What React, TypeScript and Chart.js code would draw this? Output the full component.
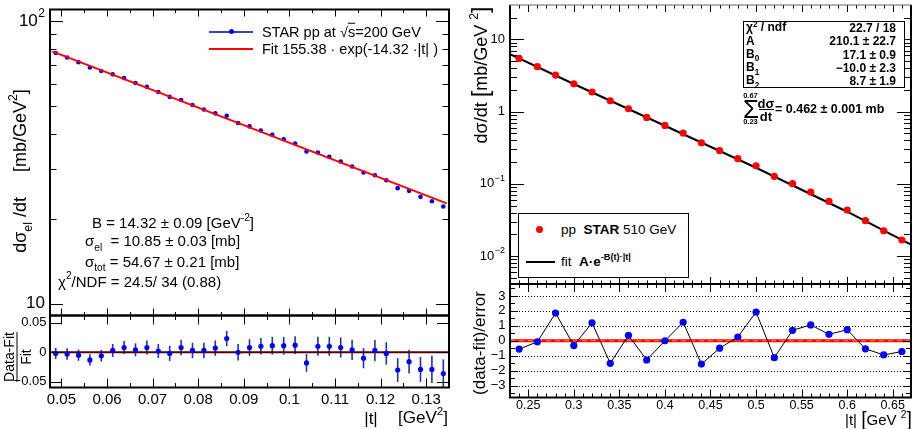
import React, { useEffect, useRef } from "react";
import { Chart, registerables } from "chart.js";
Chart.register(...registerables);

const FONT = '"Liberation Sans", Arial, Helvetica, sans-serif';

// ---------------- STAR pp at sqrt(s)=200 GeV ----------------
const t200 = [
  0.04875, 0.05125, 0.05375, 0.05625, 0.05875, 0.06125, 0.06375, 0.06625, 0.06875, 0.07125,
  0.07375, 0.07625, 0.07875, 0.08125, 0.08375, 0.08625, 0.08875, 0.09125, 0.09375, 0.09625,
  0.09875, 0.10125, 0.10375, 0.10625, 0.10875, 0.11125, 0.11375, 0.11625, 0.11875, 0.12125,
  0.12375, 0.12625, 0.12875, 0.13125, 0.13375,
];
const dsdt200 = [
  77.16, 74.37, 71.61, 68.53, 66.59, 64.83, 62.86, 60.41, 58.51, 56.12,
  53.93, 52.56, 50.46, 48.69, 47.16, 46.22, 43.59, 42.4, 40.99, 39.58,
  38.2, 36.89, 34.54, 34.27, 33.07, 31.83, 30.59, 29.11, 28.46, 27.32,
  25.62, 25.07, 23.87, 23.03, 22.06,
];
const ratio200 = [
  -0.002, -0.003, -0.005, -0.013, -0.006, 0.003, 0.008, 0.004, 0.008, 0.002,
  -0.002, 0.008, 0.003, 0.003, 0.007, 0.023, 0.0, 0.008, 0.01, 0.011,
  0.011, 0.012, -0.018, 0.01, 0.01, 0.008, 0.004, -0.01, 0.003, -0.002,
  -0.03, -0.016, -0.029, -0.029, -0.036,
];
const ratioErr200 = [
  0.0095, 0.0098, 0.0095, 0.0095, 0.0098, 0.011, 0.011, 0.011, 0.012, 0.012,
  0.013, 0.013, 0.013, 0.013, 0.013, 0.013, 0.014, 0.014, 0.014, 0.015,
  0.015, 0.015, 0.015, 0.016, 0.016, 0.017, 0.017, 0.017, 0.018, 0.019,
  0.02, 0.02, 0.021, 0.023, 0.024,
];
const fit200T = [0.048, 0.1345];
const fit200Y = [78.14, 22.64];
const zero200T = [0.0475, 0.135];
const zero200Y = [0, 0];

// ---------------- pp STAR 510 GeV ----------------
const t510 = [
  0.24, 0.26, 0.28, 0.3, 0.32, 0.34, 0.36, 0.38, 0.4, 0.42, 0.44,
  0.46, 0.48, 0.5, 0.52, 0.54, 0.56, 0.58, 0.6, 0.62, 0.64, 0.66,
];
const dsdt510 = [
  5.46, 4.19, 3.21, 2.43, 1.87, 1.415, 1.097, 0.832, 0.644, 0.505, 0.371,
  0.288, 0.223, 0.178, 0.127, 0.1004, 0.0769, 0.0571, 0.0434, 0.0309, 0.0224, 0.01667,
];
const pull510 = [
  -0.56, -0.07, 1.85, -0.32, 1.2, -1.51, 0.36, -1.29, 0.0, 1.24, -1.56,
  -0.5, 0.25, 1.92, -1.13, 0.7, 1.06, 0.43, 0.74, -0.54, -0.95, -0.72,
];
const fit510T = [0.23, 0.3, 0.4, 0.5, 0.6, 0.67];
const fit510Y = [6.28, 2.417, 0.638, 0.167, 0.0411, 0.01445];
const zero510T = [0.23, 0.67];
const zero510Y = [0, 0];

// ---------------- tick labels ----------------
const x200Ticks = [0.05, 0.06, 0.07, 0.08, 0.09, 0.1, 0.11, 0.12, 0.13];
const x200Labels = ["0.05", "0.06", "0.07", "0.08", "0.09", "0.1", "0.11", "0.12", "0.13"];
const y200Ticks = [10, 100];
const y200Base = ["10", "10"];
const y200Exp = ["", "2"];
const r200Ticks = [-0.05, 0, 0.05];
const r200Labels = ["\u22120.05", "0", "0.05"];
const x510Ticks = [0.25, 0.3, 0.35, 0.4, 0.45, 0.5, 0.55, 0.6, 0.65];
const x510Labels = ["0.25", "0.3", "0.35", "0.4", "0.45", "0.5", "0.55", "0.6", "0.65"];
const y510Ticks = [0.01, 0.1, 1, 10];
const y510Base = ["10", "10", "1", "10"];
const y510Exp = ["\u22122", "\u22121", "", ""];
const p510Ticks = [-3, -2, -1, 0, 1, 2, 3];
const p510Labels = ["\u22123", "\u22122", "\u22121", "0", "1", "2", "3"];

// ---------------- helpers ----------------
function steps(a: number, b: number, st: number): number[] {
  const out: number[] = [];
  const n = Math.round((b - a) / st);
  for (let i = 0; i <= n; i++) out.push(+(a + i * st).toFixed(6));
  return out;
}
function logMinors(min: number, max: number): number[] {
  const out: number[] = [];
  for (let k = Math.floor(Math.log10(min)); k <= Math.ceil(Math.log10(max)); k++) {
    for (let m = 2; m <= 9; m++) {
      const v = m * Math.pow(10, k);
      if (v > min && v < max) out.push(v);
    }
  }
  return out;
}
const pts = (xs: number[], ys: number[]) => xs.map((x, i) => ({ x, y: ys[i] }));

interface AxisTicks { major: number[]; minor: number[]; majLen: number; minLen: number; }
interface LabelSpec { values: number[]; texts: string[]; exps?: string[]; size: number; offset: number; }
interface FrameCfg {
  x: AxisTicks; y: AxisTicks;
  xLabels?: LabelSpec; yLabels?: LabelSpec;
  topColor?: string; topWidth?: number;
  grid?: number[];
  err?: { x: number[]; y: number[]; e: number[]; color: string; width: number };
}

function makeFrame(cfg: FrameCfg) {
  return {
    id: "rootFrame",
    beforeDatasetsDraw(chart: any) {
      const { ctx, chartArea: ca, scales } = chart;
      const xs = scales.x, ys = scales.y;
      ctx.save();
      if (cfg.grid) {
        ctx.strokeStyle = "#000";
        ctx.lineWidth = 1;
        ctx.setLineDash([1, 2]);
        cfg.grid.forEach((v) => {
          const py = Math.round(ys.getPixelForValue(v)) + 0.5;
          ctx.beginPath();
          ctx.moveTo(ca.left, py);
          ctx.lineTo(ca.right, py);
          ctx.stroke();
        });
        ctx.setLineDash([]);
      }
      if (cfg.err) {
        const e = cfg.err;
        ctx.strokeStyle = e.color;
        ctx.lineWidth = e.width;
        e.x.forEach((xv, i) => {
          const px = xs.getPixelForValue(xv);
          ctx.beginPath();
          ctx.moveTo(px, ys.getPixelForValue(e.y[i] - e.e[i]));
          ctx.lineTo(px, ys.getPixelForValue(e.y[i] + e.e[i]));
          ctx.stroke();
        });
      }
      ctx.restore();
    },
    afterDraw(chart: any) {
      const { ctx, chartArea: ca, scales } = chart;
      const xs = scales.x, ys = scales.y;
      ctx.save();
      ctx.strokeStyle = "#000";
      ctx.lineWidth = 1;
      const inX = (v: number) => v >= xs.min && v <= xs.max;
      const inY = (v: number) => v >= ys.min && v <= ys.max;
      const tickX = (v: number, len: number) => {
        if (!inX(v)) return;
        const px = Math.round(xs.getPixelForValue(v)) + 0.5;
        ctx.beginPath();
        ctx.moveTo(px, ca.bottom);
        ctx.lineTo(px, ca.bottom - len);
        ctx.moveTo(px, ca.top);
        ctx.lineTo(px, ca.top + len);
        ctx.stroke();
      };
      const tickY = (v: number, len: number) => {
        if (!inY(v)) return;
        const py = Math.round(ys.getPixelForValue(v)) + 0.5;
        ctx.beginPath();
        ctx.moveTo(ca.left, py);
        ctx.lineTo(ca.left + len, py);
        ctx.moveTo(ca.right, py);
        ctx.lineTo(ca.right - len, py);
        ctx.stroke();
      };
      cfg.x.minor.forEach((v) => tickX(v, cfg.x.minLen));
      cfg.x.major.forEach((v) => tickX(v, cfg.x.majLen));
      cfg.y.minor.forEach((v) => tickY(v, cfg.y.minLen));
      cfg.y.major.forEach((v) => tickY(v, cfg.y.majLen));

      ctx.fillStyle = "#000";
      if (cfg.xLabels) {
        const L = cfg.xLabels;
        ctx.font = `${L.size}px ${FONT}`;
        ctx.textAlign = "center";
        ctx.textBaseline = "middle";
        L.values.forEach((v, i) => {
          ctx.fillText(L.texts[i], xs.getPixelForValue(v), ca.bottom + L.offset);
        });
      }
      if (cfg.yLabels) {
        const L = cfg.yLabels;
        const fb = `${L.size}px ${FONT}`;
        const fe = `${Math.round(L.size * 0.68)}px ${FONT}`;
        ctx.textAlign = "left";
        ctx.textBaseline = "middle";
        L.values.forEach((v, i) => {
          const py = ys.getPixelForValue(v);
          const exp = L.exps ? L.exps[i] : "";
          ctx.font = fe;
          const we = exp ? ctx.measureText(exp).width + 0.5 : 0;
          ctx.font = fb;
          const wb = ctx.measureText(L.texts[i]).width;
          const xr = ca.left - L.offset;
          ctx.fillText(L.texts[i], xr - we - wb, py);
          if (exp) {
            ctx.font = fe;
            ctx.fillText(exp, xr - we + 0.5, py - L.size * 0.42);
          }
        });
      }
      // frame
      ctx.strokeStyle = "#000";
      ctx.lineWidth = 2;
      ctx.beginPath();
      ctx.moveTo(ca.left, ca.top);
      ctx.lineTo(ca.left, ca.bottom);
      ctx.lineTo(ca.right, ca.bottom);
      ctx.lineTo(ca.right, ca.top);
      ctx.stroke();
      ctx.strokeStyle = cfg.topColor || "#000";
      ctx.lineWidth = cfg.topWidth || 2;
      ctx.beginPath();
      ctx.moveTo(ca.left - 1, ca.top);
      ctx.lineTo(ca.right + 1, ca.top);
      ctx.stroke();
      ctx.restore();
    },
  };
}

function baseOptions(xsc: any, ysc: any, pad: any) {
  return {
    responsive: false,
    animation: false,
    events: [],
    layout: { padding: pad },
    scales: { x: xsc, y: ysc },
    plugins: { legend: { display: false }, tooltip: { enabled: false } },
  };
}

function ChartBox({ left, top, width, height, make }: { left: number; top: number; width: number; height: number; make: () => any }) {
  const ref = useRef<HTMLCanvasElement>(null);
  useEffect(() => {
    const chart = new Chart(ref.current as HTMLCanvasElement, make());
    return () => chart.destroy();
  }, []);
  return (
    <div style={{ position: "absolute", left, top, width, height }}>
      <canvas ref={ref} width={width} height={height} style={{ display: "block", width, height }} />
    </div>
  );
}

// ---------------- chart configs ----------------
const x200Minor = steps(0.055, 0.135, 0.01);
const x510Minor = steps(0.24, 0.67, 0.01).filter((v) => Math.abs(v * 20 - Math.round(v * 20)) > 1e-6);

const makeA = () => ({
  type: "scatter",
  data: {
    datasets: [
      { data: pts(fit200T, fit200Y), showLine: true, borderColor: "#ff0000", borderWidth: 2, pointRadius: 0, order: 0 },
      { data: pts(t200, dsdt200), showLine: false, pointRadius: 2.3, pointBackgroundColor: "#0000ee", pointBorderWidth: 0, order: 1 },
    ],
  },
  options: baseOptions(
    { type: "linear", min: 0.0475, max: 0.135, display: false },
    { type: "logarithmic", min: 9.07, max: 110, display: false },
    { left: 50, top: 9.5, right: 11, bottom: 4.5 }
  ),
  plugins: [
    makeFrame({
      x: { major: x200Ticks, minor: x200Minor, majLen: 7, minLen: 3.5 },
      y: { major: y200Ticks, minor: logMinors(9.07, 110), majLen: 13, minLen: 6.5 },
      yLabels: { values: y200Ticks, texts: y200Base, exps: y200Exp, size: 17, offset: 5 },
    }),
  ],
});

const makeB = () => ({
  type: "scatter",
  data: {
    datasets: [
      { data: pts(t200, ratio200), showLine: false, pointRadius: 2.6, pointBackgroundColor: "#0000ff", pointBorderWidth: 0, order: 0 },
      { data: pts(zero200T, zero200Y), showLine: true, borderColor: "#500000", borderWidth: 2, pointRadius: 0, order: 1 },
    ],
  },
  options: baseOptions(
    { type: "linear", min: 0.0475, max: 0.135, display: false },
    { type: "linear", min: -0.0595, max: 0.062, display: false },
    { left: 50, top: 5.5, right: 11, bottom: 41.5 }
  ),
  plugins: [
    makeFrame({
      x: { major: x200Ticks, minor: x200Minor, majLen: 9, minLen: 4.5 },
      y: { major: r200Ticks, minor: [], majLen: 12, minLen: 6 },
      xLabels: { values: x200Ticks, texts: x200Labels, size: 15, offset: 12.5 },
      yLabels: { values: r200Ticks, texts: r200Labels, size: 13, offset: 3.5 },
      err: { x: t200, y: ratio200, e: ratioErr200, color: "#2233aa", width: 1.6 },
    }),
  ],
});

const makeC = () => ({
  type: "scatter",
  data: {
    datasets: [
      { data: pts(fit510T, fit510Y), showLine: true, borderColor: "#000", borderWidth: 2, pointRadius: 0, order: 1 },
      { data: pts(t510, dsdt510), showLine: false, pointRadius: 3.6, pointBackgroundColor: "#ff0000", pointBorderWidth: 0, order: 0 },
    ],
  },
  options: baseOptions(
    { type: "linear", min: 0.23, max: 0.67, display: false },
    { type: "logarithmic", min: 0.0041, max: 30, display: false },
    { left: 50, top: 5, right: 8, bottom: 6 }
  ),
  plugins: [
    makeFrame({
      x: { major: x510Ticks, minor: x510Minor, majLen: 7, minLen: 3.5 },
      y: { major: y510Ticks, minor: logMinors(0.0041, 30), majLen: 14, minLen: 7 },
      yLabels: { values: y510Ticks, texts: y510Base, exps: y510Exp, size: 13, offset: 5 },
      topColor: "#666",
      topWidth: 1.2,
    }),
  ],
});

const makeD = () => ({
  type: "scatter",
  data: {
    datasets: [
      { data: pts(t510, pull510), showLine: true, borderColor: "#000", borderWidth: 1, tension: 0, pointRadius: 3.6, pointBackgroundColor: "#0000ff", pointBorderWidth: 0, order: 0 },
      { data: pts(zero510T, zero510Y), showLine: true, borderColor: "#f09020", borderWidth: 1, borderDash: [5, 4], pointRadius: 0, order: 1 },
      { data: pts(zero510T, zero510Y), showLine: true, borderColor: "#ff0000", borderWidth: 3, pointRadius: 0, order: 2 },
    ],
  },
  options: baseOptions(
    { type: "linear", min: 0.23, max: 0.67, display: false },
    { type: "linear", min: -3.8, max: 3.8, display: false },
    { left: 50, top: 6, right: 8, bottom: 31.5 }
  ),
  plugins: [
    makeFrame({
      x: { major: x510Ticks, minor: x510Minor, majLen: 8, minLen: 4 },
      y: { major: p510Ticks, minor: steps(-3.5, 3.5, 1), majLen: 8, minLen: 5 },
      xLabels: { values: x510Ticks, texts: x510Labels, size: 12.5, offset: 8.5 },
      yLabels: { values: p510Ticks, texts: p510Labels, size: 13, offset: 4.5 },
      grid: p510Ticks,
    }),
  ],
});

// ---------------- text overlay helpers ----------------
function Txt({ x, y, size, children, bold, anchor = "left" }: any) {
  const tr = anchor === "left" ? "translateY(-50%)" : anchor === "right" ? "translate(-100%,-50%)" : "translate(-50%,-50%)";
  return (
    <div
      style={{
        position: "absolute", left: x, top: y, fontFamily: FONT, fontSize: size, lineHeight: `${size}px`,
        whiteSpace: "pre", fontWeight: bold ? "bold" : "normal", transform: tr, color: "#000",
      }}
    >
      {children}
    </div>
  );
}
function RotTxt({ x, y, size, children }: any) {
  return (
    <div
      style={{
        position: "absolute", left: x, top: y, fontFamily: FONT, fontSize: size, lineHeight: `${size}px`,
        whiteSpace: "pre", transform: "translate(-50%,-50%) rotate(-90deg)", color: "#000",
      }}
    >
      {children}
    </div>
  );
}
const Sup = ({ children, r = -0.7 }: any) => <span style={{ fontSize: "0.68em", position: "relative", top: `${r}em` }}>{children}</span>;
const Sub = ({ children }: any) => <span style={{ fontSize: "0.68em", position: "relative", top: "0.45em" }}>{children}</span>;
const Big = ({ children }: any) => <span style={{ fontSize: "1.3em", position: "relative", top: "0.04em" }}>{children}</span>;
const Box = ({ x, y, w, h, bg, style }: any) => (
  <div style={{ position: "absolute", left: x, top: y, width: w, height: h, background: bg, ...style }} />
);

export default function App() {
  return (
    <div style={{ position: "absolute", left: 0, top: 0, width: 919, height: 429, background: "#fff", overflow: "hidden" }}>
      <ChartBox left={0} top={0} width={460} height={320} make={makeA} />
      <ChartBox left={0} top={310} width={460} height={119} make={makeB} />
      <ChartBox left={460} top={0} width={459} height={290} make={makeC} />
      <ChartBox left={460} top={278} width={459} height={151} make={makeD} />

      {/* left panel texts */}
      <RotTxt x={21} y={171} size={18}>
        {"d\u03C3"}<Sub>el</Sub>{" /dt\u00A0\u00A0\u00A0\u00A0\u00A0[mb/GeV"}<Sup>2</Sup>{"]"}
      </RotTxt>
      <div
        style={{
          position: "absolute", left: 17, top: 357, transform: "translate(-50%,-50%) rotate(-90deg)",
          fontFamily: FONT, fontSize: 14, lineHeight: "14px", display: "flex", flexDirection: "column", alignItems: "center",
        }}
      >
        <span>Data-Fit</span>
        <span style={{ width: "100%", height: 1, background: "#000", margin: "1px 0" }} />
        <span>Fit</span>
      </div>

      <Box x={209} y={31} w={44} h={1.5} bg="#3344bb" />
      <Box x={228.7} y={29.2} w={5} h={5} bg="#0000ee" style={{ borderRadius: "50%" }} />
      <Txt x={262} y={31.5} size={14.5}>
        {"STAR pp at \u221A"}<span style={{ textDecoration: "overline" }}>s</span>{"=200 GeV"}
      </Txt>
      <Box x={209} y={47.5} w={44} h={2} bg="#ff0000" />
      <Txt x={262} y={48.5} size={14.5}>{"Fit 155.38 \u00B7 exp(-14.32 \u00B7|t| )"}</Txt>

      <Txt x={92} y={223} size={15}>{"B = 14.32 \u00B1 0.09 [GeV"}<Sup>-2</Sup>{"]"}</Txt>
      <Txt x={85} y={241} size={15}>{"\u03C3"}<Sub>el</Sub>{"  = 10.85 \u00B1 0.03 [mb]"}</Txt>
      <Txt x={85} y={261.5} size={15}>{"\u03C3"}<Sub>tot</Sub>{" = 54.67 \u00B1 0.21 [mb]"}</Txt>
      <Txt x={58} y={281.5} size={15}>{"\u03C7"}<Sup>2</Sup>{"/NDF = 24.5/ 34 (0.88)"}</Txt>

      <Txt x={371} y={418} size={17} anchor="center">{"|t|"}</Txt>
      <Txt x={398} y={418} size={17}>{"[GeV"}<Sup>2</Sup>{"]"}</Txt>

      {/* right panel texts */}
      <RotTxt x={481} y={74.5} size={18}>
        {"d\u03C3/dt "}<Big>[</Big>{"mb/GeV "}<Sup>2</Sup><Big>]</Big>
      </RotTxt>
      <RotTxt x={479} y={342.5} size={17}>{"(data-fit)/error"}</RotTxt>

      <div
        style={{
          position: "absolute", left: 743, top: 20.5, width: 162, height: 67, border: "1.5px solid #000",
          boxSizing: "border-box", background: "#fff",
        }}
      />
      <Txt x={746} y={27.5} size={12} bold>{"\u03C7"}<Sup r={-0.45}>2</Sup>{" / ndf"}</Txt>
      <Txt x={896} y={27.5} size={12} bold anchor="right">{"22.7 / 18"}</Txt>
      <Txt x={746} y={41} size={12} bold>{"A"}</Txt>
      <Txt x={896} y={41} size={12} bold anchor="right">{"210.1 \u00B1 22.7"}</Txt>
      <Txt x={746} y={54.5} size={12} bold>{"B"}<Sub>0</Sub></Txt>
      <Txt x={896} y={54.5} size={12} bold anchor="right">{"17.1 \u00B1 0.9"}</Txt>
      <Txt x={746} y={68} size={12} bold>{"B"}<Sub>1</Sub></Txt>
      <Txt x={896} y={68} size={12} bold anchor="right">{"\u221210.0 \u00B1 2.3"}</Txt>
      <Txt x={746} y={81} size={12} bold>{"B"}<Sub>2</Sub></Txt>
      <Txt x={896} y={81} size={12} bold anchor="right">{"8.7 \u00B1 1.9"}</Txt>

      <Txt x={751} y={108.5} size={26} anchor="center">{"\u03A3"}</Txt>
      <Txt x={750.5} y={95.5} size={7.5} bold anchor="center">{"0.67"}</Txt>
      <Txt x={750.5} y={122} size={7.5} bold anchor="center">{"0.23"}</Txt>
      <Txt x={766} y={103} size={13} bold anchor="center">{"d\u03C3"}</Txt>
      <Box x={759} y={109} w={14.5} h={1.3} bg="#000" />
      <Txt x={766} y={115.5} size={13} bold anchor="center">{"dt"}</Txt>
      <Txt x={775} y={108.5} size={12.5} bold>{"= 0.462 \u00B1 0.001 mb"}</Txt>

      <div
        style={{
          position: "absolute", left: 518, top: 213, width: 171, height: 65, border: "1.5px solid #000",
          boxSizing: "border-box", background: "#fff",
        }}
      />
      <Box x={535.8} y={225.8} w={7.2} h={7.2} bg="#ff0000" style={{ borderRadius: "50%" }} />
      <Txt x={561} y={229.5} size={13.5}>{"pp  "}<b>STAR</b>{" 510 GeV"}</Txt>
      <Box x={526} y={261} w={29} h={2} bg="#000" />
      <Txt x={561} y={263} size={13.5}>{"fit  "}<b>{"A\u00B7e"}<Sup>{"-B(t)\u00B7|t|"}</Sup></b></Txt>

      <Txt x={845} y={420} size={15}>{"|t| "}<Big>[</Big>{"GeV "}<Sup>2</Sup><Big>]</Big></Txt>
    </div>
  );
}
